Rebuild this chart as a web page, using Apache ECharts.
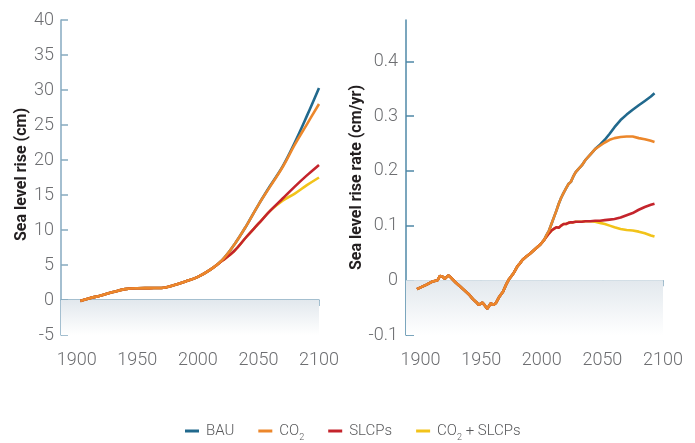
<!DOCTYPE html>
<html>
<head>
<meta charset="utf-8">
<script src="https://cdn.jsdelivr.net/npm/echarts@6/dist/echarts.min.js"></script>
<style>
  html, body { margin: 0; padding: 0; background: #fff; }
  #main { width: 695px; height: 443px; }
</style>
</head>
<body>
<div id="main"></div>
<script>
// Sea level rise (cm), left panel
var levelYears = [1903, 1910, 1920, 1930, 1940, 1950, 1960, 1970, 1980, 1990, 2000, 2010, 2020, 2030, 2040, 2050, 2060, 2070, 2080, 2090, 2100];
var levelBAU  = [-0.15, 0.22, 0.65, 1.14, 1.55, 1.68, 1.7, 1.72, 2.1, 2.65, 3.3, 4.3, 5.7, 7.9, 10.6, 13.6, 16.4, 19.1, 22.5, 26.3, 30.3];
var levelCO2  = [-0.15, 0.22, 0.65, 1.14, 1.55, 1.68, 1.7, 1.72, 2.1, 2.65, 3.3, 4.3, 5.7, 7.9, 10.6, 13.6, 16.3, 19.0, 22.2, 25.1, 28.0];
var levelSLCP = [-0.15, 0.22, 0.65, 1.14, 1.55, 1.68, 1.7, 1.72, 2.1, 2.65, 3.3, 4.3, 5.6, 7.0, 9.0, 10.9, 12.8, 14.5, 16.2, 17.8, 19.3];
var levelBoth = [-0.15, 0.22, 0.65, 1.14, 1.55, 1.68, 1.7, 1.72, 2.1, 2.65, 3.3, 4.3, 5.6, 7.0, 9.0, 10.9, 12.8, 14.2, 15.2, 16.4, 17.5];

// Sea level rise rate (cm/yr), right panel: common history then scenarios
var rateYearsPast = [1897, 1901, 1905, 1910, 1914, 1916, 1918, 1920, 1923, 1925, 1929, 1932, 1936, 1940, 1943, 1946, 1948, 1951, 1953, 1955, 1958, 1960, 1962, 1965, 1968, 1971, 1973, 1975, 1977, 1980, 1982, 1984, 1987, 1990, 1993, 1996, 1999, 2002];
var ratePast = [-0.016, -0.012, -0.008, -0.002, 0.0, 0.008, 0.007, 0.003, 0.009, 0.005, -0.004, -0.010, -0.018, -0.026, -0.034, -0.040, -0.045, -0.041, -0.046, -0.052, -0.042, -0.045, -0.042, -0.030, -0.021, -0.006, 0.002, 0.008, 0.014, 0.026, 0.031, 0.037, 0.043, 0.048, 0.054, 0.060, 0.066, 0.074];
var rateYearsFuture = [2004, 2006, 2008, 2010, 2012, 2014, 2016, 2018, 2020, 2022, 2024, 2026, 2028, 2030, 2033, 2036, 2040, 2044, 2048, 2052, 2056, 2060, 2065, 2070, 2075, 2080, 2085, 2090, 2093];
var rateBAU  = [0.083, 0.091, 0.103, 0.115, 0.127, 0.140, 0.151, 0.160, 0.168, 0.176, 0.180, 0.190, 0.198, 0.203, 0.210, 0.220, 0.230, 0.240, 0.248, 0.257, 0.268, 0.280, 0.293, 0.303, 0.312, 0.320, 0.328, 0.336, 0.342];
var rateCO2  = [0.083, 0.091, 0.103, 0.115, 0.127, 0.140, 0.151, 0.160, 0.168, 0.176, 0.180, 0.190, 0.198, 0.203, 0.210, 0.220, 0.230, 0.240, 0.246, 0.252, 0.257, 0.260, 0.262, 0.263, 0.263, 0.260, 0.258, 0.255, 0.253];
var rateSLCP = [0.080, 0.086, 0.091, 0.094, 0.097, 0.096, 0.100, 0.103, 0.103, 0.105, 0.106, 0.106, 0.107, 0.107, 0.107, 0.108, 0.108, 0.109, 0.109, 0.110, 0.111, 0.112, 0.115, 0.119, 0.123, 0.129, 0.134, 0.138, 0.140];
var rateBoth = [0.080, 0.086, 0.091, 0.094, 0.097, 0.096, 0.100, 0.103, 0.103, 0.105, 0.106, 0.106, 0.107, 0.107, 0.107, 0.108, 0.108, 0.107, 0.105, 0.103, 0.100, 0.097, 0.094, 0.092, 0.091, 0.089, 0.086, 0.082, 0.080];

var yearTicks = [1900, 1950, 2000, 2050, 2100];
var levelTicks = [-5, 0, 5, 10, 15, 20, 25, 30, 35, 40];
var rateTicks = [-0.1, 0, 0.1, 0.2, 0.3, 0.4];

var seriesNames = ["BAU", "CO2", "SLCPs", "CO2 + SLCPs"];
var seriesColors = { "BAU": "#21698d", "CO2": "#ec872b", "SLCPs": "#c4242c", "CO2 + SLCPs": "#f2c31a" };

// axis extents
var levelRange = { xMin: 1887, xMax: 2100, yMin: -5, yMax: 40 };
var rateRange = { xMin: 1888, xMax: 2100, yMin: -0.1, yMax: 0.476 };

var FONT = "Roboto, 'Liberation Sans', sans-serif";
var axisBlue = "#86aac0";
var labelGrey = "#6d6e71";

function pairs(xs, ys) {
  return xs.map(function (x, i) { return [x, ys[i]]; });
}

// pale band below zero
function shade(r) {
  return {
    silent: true,
    itemStyle: {
      color: new echarts.graphic.LinearGradient(0, 0, 0, 1, [
        { offset: 0, color: "#e2e8ed" },
        { offset: 1, color: "#ffffff" },
      ]),
    },
    data: [[{ coord: [r.xMin, 0] }, { coord: [r.xMax, r.yMin] }]],
  };
}

function lineSeries(name, idx, data, smooth, range) {
  var s = {
    name: name,
    type: "line",
    xAxisIndex: idx * 2,
    yAxisIndex: idx,
    data: data,
    smooth: smooth,
    showSymbol: false,
    symbol: "none",
    lineStyle: { width: 2.6, color: seriesColors[name] },
    itemStyle: { color: seriesColors[name] },
  };
  if (range) s.markArea = shade(range);
  return s;
}

function xAxes(gridIndex, r) {
  return [
    {
      gridIndex: gridIndex,
      type: "value",
      min: r.xMin,
      max: r.xMax,
      axisLine: { onZero: true, lineStyle: { color: axisBlue, width: 1.5 } },
      axisTick: { show: true, customValues: yearTicks, length: 6, lineStyle: { color: axisBlue, width: 1.5 } },
      axisLabel: { show: false },
      splitLine: { show: false },
    },
    {
      gridIndex: gridIndex,
      type: "value",
      position: "bottom",
      min: r.xMin,
      max: r.xMax,
      axisLine: { show: false, onZero: false },
      axisTick: { show: false },
      axisLabel: {
        customValues: yearTicks,
        formatter: function (v) { return String(v); },
        margin: 16,
        fontSize: 18,
        fontWeight: 300,
        fontFamily: FONT,
        color: labelGrey,
      },
      splitLine: { show: false },
    },
  ];
}

var chart = echarts.init(document.getElementById("main"));

var option = {
  animation: false,
  grid: [
    { left: 61, top: 20, width: 258, height: 315 },
    { left: 406, top: 20, width: 257, height: 315 },
  ],
  legend: {
    data: seriesNames,
    left: 185,
    top: 420,
    padding: 0,
    icon: "rect",
    itemWidth: 14,
    itemHeight: 3,
    itemGap: 24,
    formatter: function (name) {
      return name.replace("CO2", "CO{sub|2}");
    },
    textStyle: {
      fontSize: 15,
      fontWeight: 300,
      fontFamily: FONT,
      color: "#58595b",
      lineHeight: 22,
      padding: [0, 0, 0, 2],
      rich: {
        sub: { fontSize: 9, fontWeight: 300, fontFamily: FONT, color: "#58595b", verticalAlign: "bottom", lineHeight: 22 },
      },
    },
  },
  xAxis: xAxes(0, levelRange).concat(xAxes(1, rateRange)),
  yAxis: [
    {
      gridIndex: 0,
      type: "value",
      min: levelRange.yMin,
      max: levelRange.yMax,
      interval: 5,
      name: "Sea level rise (cm)",
      nameLocation: "middle",
      nameGap: 31,
      nameTextStyle: { fontSize: 16, fontWeight: "bold", fontFamily: FONT, color: "#231f20", padding: [0, 0, 0, 6] },
      axisLine: { show: true, onZero: false, lineStyle: { color: axisBlue, width: 1.5 } },
      axisTick: { show: true, inside: true, length: 7, customValues: levelTicks, lineStyle: { color: axisBlue, width: 1.5 } },
      axisLabel: { margin: 7, fontSize: 18, fontWeight: 300, fontFamily: FONT, color: labelGrey, customValues: levelTicks },
      splitLine: { show: false },
    },
    {
      gridIndex: 1,
      type: "value",
      min: rateRange.yMin,
      max: rateRange.yMax,
      name: "Sea level rise rate (cm/yr)",
      nameLocation: "middle",
      nameGap: 37,
      nameTextStyle: { fontSize: 16, fontWeight: "bold", fontFamily: FONT, color: "#231f20" },
      axisLine: { show: true, onZero: false, lineStyle: { color: "#4f88a7", width: 1.5 } },
      axisTick: { show: true, inside: true, length: 8, customValues: rateTicks, lineStyle: { color: "#4f88a7", width: 1.5 } },
      axisLabel: { margin: 8, fontSize: 18, fontWeight: 300, fontFamily: FONT, color: labelGrey, customValues: rateTicks },
      splitLine: { show: false },
    },
  ],
  series: [
    lineSeries("BAU", 0, pairs(levelYears, levelBAU), 0.4, levelRange),
    lineSeries("CO2 + SLCPs", 0, pairs(levelYears, levelBoth), 0.4),
    lineSeries("SLCPs", 0, pairs(levelYears, levelSLCP), 0.4),
    lineSeries("CO2", 0, pairs(levelYears, levelCO2), 0.4),
    lineSeries("BAU", 1, pairs(rateYearsPast.concat(rateYearsFuture), ratePast.concat(rateBAU)), false, rateRange),
    lineSeries("CO2 + SLCPs", 1, pairs(rateYearsPast.concat(rateYearsFuture), ratePast.concat(rateBoth)), false),
    lineSeries("SLCPs", 1, pairs(rateYearsPast.concat(rateYearsFuture), ratePast.concat(rateSLCP)), false),
    lineSeries("CO2", 1, pairs(rateYearsPast.concat(rateYearsFuture), ratePast.concat(rateCO2)), false),
  ],
};

chart.setOption(option);
</script>
</body>
</html>
